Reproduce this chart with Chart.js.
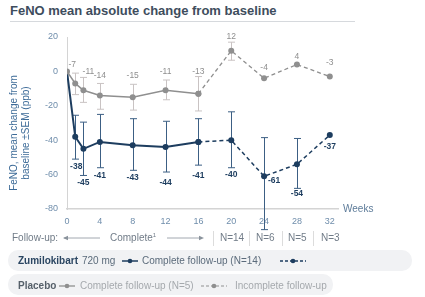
<!DOCTYPE html>
<html>
<head>
<meta charset="utf-8">
<script src="https://cdn.jsdelivr.net/npm/chart.js@4"></script>
<style>
    body { margin: 0; width: 425px; height: 297px; background: #fff; font-family: "Liberation Sans", Arial, sans-serif; position: relative; overflow: hidden; }
    .title { position: absolute; left: 10px; top: 3px; font-size: 13px; font-weight: bold; color: #3e4d5d; }
    .rule { position: absolute; left: 10px; top: 21px; width: 345px; height: 1px; background: #d6d9dd; }
    #wrap { position: absolute; left: 0; top: 0; }
    .fu { position: absolute; top: 232px; font-size: 10px; line-height: 12px; color: #717c88; white-space: nowrap; }
    .fu sup { font-size: 6px; line-height: 0; vertical-align: 4px; }
    .sep { position: absolute; top: 231px; width: 1px; height: 15px; background: #dcdcdc; }
    .box { position: absolute; left: 8px; height: 21px; border-radius: 10px; background: #f1f2f4; }
    .lg { position: absolute; font-size: 10px; line-height: 12px; white-space: nowrap; }
    .mk { position: absolute; }
</style>
</head>
<body>
<div class="title">FeNO mean absolute change from baseline</div>
<div class="rule"></div>
<div id="wrap"><canvas id="chart" width="425" height="234"></canvas></div>

<!-- follow-up row -->
<div class="fu" style="left:12px">Follow-up:</div>
<svg class="mk" style="left:62px; top:233px" width="40" height="10"><line x1="2" y1="5" x2="38" y2="5" stroke="#8a939c" stroke-width="0.8"/><path d="M1 5 L6 2.8 L6 7.2 Z" fill="#8a939c"/></svg>
<div class="fu" style="left:110px">Complete<sup>1</sup></div>
<svg class="mk" style="left:165px; top:233px" width="40" height="10"><line x1="2" y1="5" x2="36" y2="5" stroke="#8a939c" stroke-width="0.8"/><path d="M39 5 L34 2.8 L34 7.2 Z" fill="#8a939c"/></svg>
<div class="sep" style="left:213px"></div>
<div class="sep" style="left:249px"></div>
<div class="sep" style="left:282px"></div>
<div class="sep" style="left:313px"></div>
<div class="fu" style="left:220px">N=14</div>
<div class="fu" style="left:256px">N=6</div>
<div class="fu" style="left:288px">N=5</div>
<div class="fu" style="left:321px">N=3</div>

<!-- legend boxes -->
<div class="box" style="top:250px; width:404px"></div>
<div class="lg" style="left:18px; top:255px; color:#2b4662"><b>Zumilokibart</b></div>
<div class="lg" style="left:82px; top:255px; color:#5b6b7b">720 mg</div>
<svg class="mk" style="left:121px; top:254px" width="18" height="14"><line x1="1" y1="7" x2="17" y2="7" stroke="#1d3d5f" stroke-width="1.5"/><circle cx="9" cy="7" r="2.3" fill="#1d3d5f"/></svg>
<div class="lg" style="left:142px; top:255px; color:#5b6b7b">Complete follow-up (N=14)</div>
<svg class="mk" style="left:279px; top:254px" width="28" height="14"><line x1="1" y1="7" x2="27" y2="7" stroke="#1d3d5f" stroke-width="1.3" stroke-dasharray="3,2"/><circle cx="14" cy="7" r="2.3" fill="#1d3d5f"/></svg>

<div class="box" style="top:274px; width:325px"></div>
<div class="lg" style="left:18px; top:280px; color:#56606a"><b>Placebo</b></div>
<svg class="mk" style="left:58px; top:279px" width="18" height="14"><line x1="1" y1="7" x2="17" y2="7" stroke="#8f8f8f" stroke-width="1.3"/><circle cx="9" cy="7" r="2.3" fill="#8f8f8f"/></svg>
<div class="lg" style="left:80px; top:280px; color:#a5a9ad">Complete follow-up (N=5)</div>
<svg class="mk" style="left:200px; top:279px" width="28" height="14"><line x1="1" y1="7" x2="27" y2="7" stroke="#8f8f8f" stroke-width="1.2" stroke-dasharray="3,2"/><circle cx="14" cy="7" r="2.3" fill="#8f8f8f"/></svg>
<div class="lg" style="left:235px; top:280px; color:#a5a9ad">Incomplete follow-up</div>

<script>
// weeks and values
const weeks = [0, 1, 2, 4, 8, 12, 16, 20, 24, 28, 32];
const zumiMean = [0, -38, -45, -41, -43, -44, -41, -40, -61, -54, -37];
const zumiHigh = [null, -25.5, -29.5, -25, -27.5, -29, -27.5, -23.5, -38.5, -39, null];
const zumiLow = [null, -51, -60.5, -56, -57.5, -58.5, -54.5, -56, -92, -68, null];
const placeboMean = [0, -7, -11, -14, -15, -11, -13, 12, -4, 4, -3];
const placeboHigh = [null, -1, -3.5, -7, -7.5, -5, -3, 17, null, null, null];
const placeboLow = [null, -13.5, -18, -22, -22.5, -16.5, -23, 6.5, null, null, null];
const completeUpTo = 6; // index of week 16
const xTicks = [0, 4, 8, 12, 16, 20, 24, 28, 32];

const NAVY = '#1d3d5f';
const GREY = '#8f8f8f';
const FONT = '"Liberation Sans", Arial, sans-serif';

function pts(vals, from, to) {
    const out = [];
    for (let i = from; i <= to; i++) out.push({ x: weeks[i], y: vals[i] });
    return out;
}

// label nudges (px) relative to each point
const zumiLabelPos = [null, [1, 29.5], [0, 33.5], [0, 33.5], [0, 32], [0, 36], [0, 33.5], [0, 34], [10, 4], [0, 29], [0, 12]];
const placeboLabelPos = [null, [-3, -19], [5, -19], [0, -20], [0, -22], [0, -19], [0, -22], [0, -14], [0, -11], [0, -8], [0, -14]];

const extras = {
    id: 'extras',
    beforeDatasetsDraw(chart) {
        const ctx = chart.ctx;
        const x = chart.scales.x, y = chart.scales.y;
        const drawBars = (hi, lo, color) => {
            ctx.save();
            ctx.strokeStyle = color;
            ctx.lineWidth = 1;
            weeks.forEach((w, i) => {
                if (hi[i] === null) return;
                const px = Math.round(x.getPixelForValue(w)) + 0.5;
                const a = y.getPixelForValue(hi[i]), b = y.getPixelForValue(lo[i]);
                ctx.beginPath();
                ctx.moveTo(px, a); ctx.lineTo(px, b);
                ctx.moveTo(px - 3.5, a); ctx.lineTo(px + 3.5, a);
                ctx.moveTo(px - 3.5, b); ctx.lineTo(px + 3.5, b);
                ctx.stroke();
            });
            ctx.restore();
        };
        drawBars(placeboHigh, placeboLow, '#c9c3c3');
        drawBars(zumiHigh, zumiLow, '#3c5f84');
    },
    afterDatasetsDraw(chart) {
        const ctx = chart.ctx;
        const x = chart.scales.x, y = chart.scales.y;
        ctx.save();
        ctx.textAlign = 'center';
        ctx.textBaseline = 'middle';
        ctx.font = '8.5px ' + FONT;
        ctx.fillStyle = '#8e8e8e';
        weeks.forEach((w, i) => {
            if (!placeboLabelPos[i]) return;
            ctx.fillText(String(placeboMean[i]), x.getPixelForValue(w) + placeboLabelPos[i][0], y.getPixelForValue(placeboMean[i]) + placeboLabelPos[i][1]);
        });
        ctx.font = 'bold 8.5px ' + FONT;
        ctx.fillStyle = NAVY;
        weeks.forEach((w, i) => {
            if (!zumiLabelPos[i]) return;
            ctx.fillText(String(zumiMean[i]), x.getPixelForValue(w) + zumiLabelPos[i][0], y.getPixelForValue(zumiMean[i]) + zumiLabelPos[i][1]);
        });

        // axis title and "Weeks"
        ctx.font = '10px ' + FONT;
        ctx.fillStyle = '#3d6b98';
        ctx.save();
        ctx.translate(14, 133);
        ctx.rotate(-Math.PI / 2);
        ctx.fillText('FeNO, mean change from', 0, 0);
        ctx.fillText('baseline \u00B1SEM (ppb)', 0, 12);
        ctx.restore();
        ctx.textAlign = 'left';
        ctx.fillStyle = '#5d7b99';
        ctx.fillText('Weeks', chart.chartArea.right + 5, chart.chartArea.bottom);
        ctx.restore();
    }
};

new Chart(document.getElementById('chart'), {
    type: 'line',
    data: {
        datasets: [
            {
                data: pts(placeboMean, 0, completeUpTo),
                borderColor: GREY, backgroundColor: GREY, borderWidth: 1.5,
                pointRadius: 3, pointBorderWidth: 0, order: 1
            },
            {
                data: pts(zumiMean, 0, completeUpTo),
                borderColor: NAVY, backgroundColor: NAVY, borderWidth: 2,
                pointRadius: [0, 3, 3, 3, 3, 3, 3], pointBorderWidth: 0, order: 2
            },
            {
                data: pts(zumiMean, completeUpTo, weeks.length - 1),
                borderColor: NAVY, backgroundColor: NAVY, borderWidth: 1.5, borderDash: [4, 3],
                pointRadius: 3, pointBorderWidth: 0, order: 3
            },
            {
                data: pts(placeboMean, completeUpTo, weeks.length - 1),
                borderColor: GREY, backgroundColor: GREY, borderWidth: 1.3, borderDash: [4, 3],
                pointRadius: 3, pointBorderWidth: 0, order: 4
            }
        ]
    },
    options: {
        responsive: false,
        animation: false,
        layout: { padding: { top: 37, right: 87, left: 0, bottom: 0 } },
        plugins: { legend: { display: false }, tooltip: { enabled: false } },
        scales: {
            x: {
                type: 'linear', min: 0, max: 33,
                afterBuildTicks: s => { s.ticks = xTicks.map(v => ({ value: v })); },
                afterFit: s => { s.height = 25; },
                grid: { display: false, drawTicks: false },
                border: { display: true, color: '#d4d4d4', width: 1.5 },
                ticks: { padding: 7, color: '#6f8dab', font: { size: 9, family: FONT }, maxRotation: 0 }
            },
            y: {
                min: -80, max: 20,
                afterFit: s => { s.width = 67; },
                grid: { display: false, drawTicks: false },
                border: { display: true, color: '#d4d4d4', width: 1 },
                ticks: { stepSize: 20, padding: 9, color: '#6f8dab', font: { size: 9, family: FONT } }
            }
        }
    },
    plugins: [extras]
});
</script>
</body>
</html>
